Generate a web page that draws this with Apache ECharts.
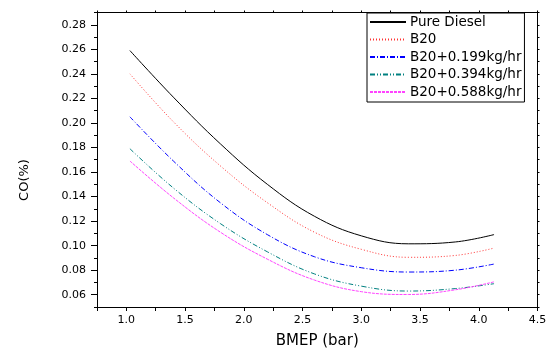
<!DOCTYPE html>
<html><head><meta charset="utf-8">
<script src="https://cdn.jsdelivr.net/npm/echarts@6/dist/echarts.min.js"></script>
<style>html,body{margin:0;padding:0;background:#fff}#c{width:551px;height:354px}</style>
</head><body><div id="c"></div>
<script>
const bmep = [1.03, 1.4, 1.8, 2.2, 2.6, 3.0, 3.4, 3.8, 4.13];
const pureDiesel = [0.259, 0.221, 0.183, 0.150, 0.124, 0.108, 0.1015, 0.103, 0.109];
const b20 = [0.240, 0.201, 0.165, 0.135, 0.111, 0.097, 0.0905, 0.092, 0.098];
const b20_0199 = [0.205, 0.169, 0.135, 0.109, 0.091, 0.082, 0.0785, 0.080, 0.085];
const b20_0394 = [0.179, 0.147, 0.118, 0.095, 0.077, 0.067, 0.063, 0.065, 0.069];
const b20_0588 = [0.169, 0.139, 0.111, 0.089, 0.072, 0.0625, 0.0602, 0.064, 0.0705];
const seriesNames = ['Pure Diesel', 'B20', 'B20+0.199kg/hr', 'B20+0.394kg/hr', 'B20+0.588kg/hr'];
const xTicks = [1.0, 1.5, 2.0, 2.5, 3.0, 3.5, 4.0, 4.5];
const yTicks = [0.06, 0.08, 0.10, 0.12, 0.14, 0.16, 0.18, 0.20, 0.22, 0.24, 0.26, 0.28];

const FONT = 'DejaVu Sans';
const pair = arr => bmep.map((x, i) => [x, arr[i]]);
const styles = [
  {color: '#000000', type: 'solid'},
  {color: '#ff3333', type: [1, 2]},
  {color: '#0000ff', type: [5, 2, 1, 2]},
  {color: '#008080', type: [5, 2, 1, 2, 1, 2]},
  {color: '#ff44ff', type: [3, 1]}
];
const dataSets = [pureDiesel, b20, b20_0199, b20_0394, b20_0588];

const chart = echarts.init(document.getElementById('c'), null, {renderer: 'canvas'});
const axisLine = {show: true, lineStyle: {color: '#000', width: 1}};
chart.setOption({
  animation: false,
  backgroundColor: '#fff',
  grid: {left: 97, top: 12.5, right: 13.5, bottom: 44},
  legend: {
    orient: 'vertical', left: 367, top: 13,
    data: seriesNames,
    borderColor: '#000', borderWidth: 1, backgroundColor: '#fff',
    padding: [2, 3, 3, 2], itemGap: 3.5, itemWidth: 36, itemHeight: 13,
    itemStyle: {opacity: 0, borderWidth: 0},
    textStyle: {fontFamily: FONT, fontSize: 13.5, color: '#000', padding: [0, 0, 0, -1]}
  },
  xAxis: [
    {type: 'value', min: 0.75, max: 4.5, interval: 0.25, position: 'bottom',
     axisLine, splitLine: {show: false},
     axisTick: {show: true, inside: false, length: 4, lineStyle: {color: '#000'}},
     axisLabel: {customValues: xTicks, formatter: v => v.toFixed(1), margin: 8,
                 fontFamily: FONT, fontSize: 11, color: '#000'},
     name: 'BMEP (bar)', nameLocation: 'middle', nameGap: 27,
     nameTextStyle: {fontFamily: FONT, fontSize: 15, color: '#000'}},
    {type: 'value', min: 0.75, max: 4.5, interval: 0.25, position: 'top',
     axisLine, splitLine: {show: false},
     axisTick: {show: true, inside: false, length: 2, lineStyle: {color: '#000'}},
     axisLabel: {show: false}}
  ],
  yAxis: [
    {type: 'value', min: 0.05, max: 0.29, position: 'left',
     axisLine, splitLine: {show: false},
     axisTick: {show: true, customValues: yTicks, length: 6, lineStyle: {color: '#000'}},
     axisLabel: {customValues: yTicks, formatter: v => v.toFixed(2), margin: 11,
                 fontFamily: FONT, fontSize: 11, color: '#000'}},
    {type: 'value', min: 0.05, max: 0.29, interval: 0.01, position: 'left',
     axisLine, splitLine: {show: false},
     axisTick: {show: true, length: 3, lineStyle: {color: '#000'}},
     axisLabel: {show: false}},
    {type: 'value', min: 0.05, max: 0.29, interval: 0.01, position: 'right',
     axisLine, splitLine: {show: false},
     axisTick: {show: true, length: 2, lineStyle: {color: '#000'}},
     axisLabel: {show: false}}
  ],
  graphic: [{
    type: 'text', x: 25, y: 180, rotation: Math.PI / 2,
    style: {text: 'CO(%)', fontFamily: FONT, fontSize: 13, fill: '#000', align: 'center', verticalAlign: 'middle'}
  }],
  series: dataSets.map((d, i) => ({
    name: seriesNames[i], type: 'line', data: pair(d),
    smooth: 0.4, symbol: 'none', showSymbol: false,
    xAxisIndex: 0, yAxisIndex: 0,
    lineStyle: {color: styles[i].color, type: styles[i].type, width: 1},
    itemStyle: {color: styles[i].color}
  }))
});
</script></body></html>
